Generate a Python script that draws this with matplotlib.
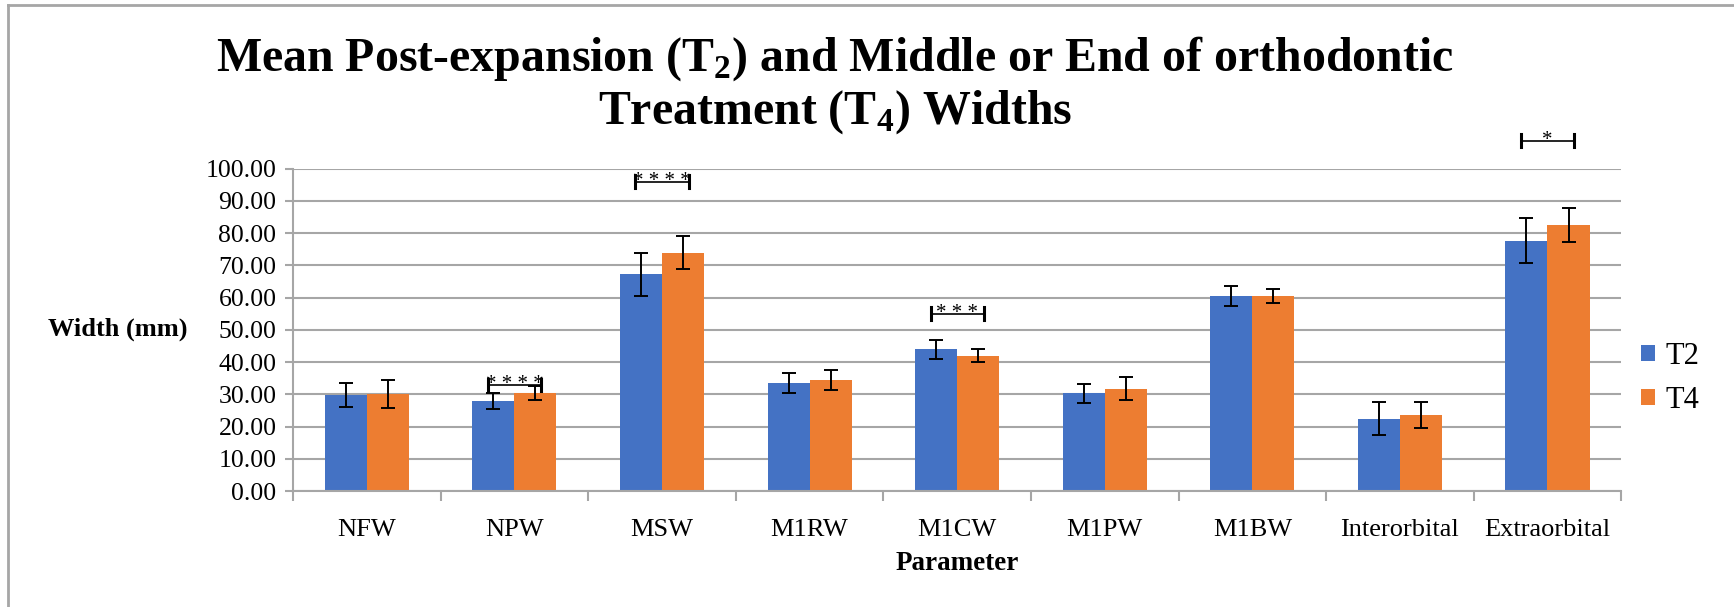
import numpy as np
import matplotlib.pyplot as plt
from matplotlib.lines import Line2D

plt.rcParams['font.family'] = ['Liberation Serif', 'DejaVu Serif']
plt.rcParams['mathtext.fontset'] = 'custom'
plt.rcParams['mathtext.rm'] = 'Liberation Serif:bold'
plt.rcParams['mathtext.bf'] = 'Liberation Serif:bold'

categories = ["NFW", "NPW", "MSW", "M1RW", "M1CW", "M1PW", "M1BW",
              "Interorbital", "Extraorbital"]
t2_mean = [29.7, 28.0, 67.3, 33.5, 44.0, 30.3, 60.5, 22.5, 77.7]
t2_err = [3.7, 2.5, 6.7, 3.2, 3.0, 3.0, 3.2, 5.0, 6.9]
t4_mean = [30.2, 30.5, 74.0, 34.5, 42.0, 31.8, 60.4, 23.5, 82.5]
t4_err = [4.3, 2.2, 5.0, 3.0, 2.0, 3.5, 2.2, 4.0, 5.2]

# significance brackets: (category index, y value, stars)
sig_idx = [1, 2, 4, 8]
sig_y = [32.9, 96.0, 55.0, 108.7]
sig_txt = ["* * * *", "* * * *", "* * *", "*"]

blue = "#4472C4"
orange = "#ED7D31"
grid_c = "#A6A6A6"

fig = plt.figure(figsize=(17.34, 6.07), dpi=100)
ax = fig.add_axes([0.169, 0.191, 0.766, 0.531])

x = np.arange(len(categories))
w = 0.285
ekw = dict(ecolor="black", elinewidth=1.4, capthick=1.4)
ax.bar(x - w / 2, t2_mean, w, color=blue, yerr=t2_err, capsize=5,
       error_kw=ekw, label="T2", zorder=2)
ax.bar(x + w / 2, t4_mean, w, color=orange, yerr=t4_err, capsize=5,
       error_kw=ekw, label="T4", zorder=2)

for i, yv, s in zip(sig_idx, sig_y, sig_txt):
    x0, x1 = i - 0.18, i + 0.18
    ax.plot([x0, x1], [yv, yv], color="black", lw=1.2, clip_on=False, zorder=3)
    for xx in (x0, x1):
        ax.plot([xx, xx], [yv - 2.0, yv + 2.0], color="black", lw=2.2,
                clip_on=False, zorder=3)
    ax.annotate(s, (i, yv), xytext=(0, -3.0), textcoords="offset points",
                ha="center", va="baseline", fontsize=15, annotation_clip=False)

ax.set_xlim(-0.5, len(categories) - 0.5)
ax.set_ylim(0, 100)
ax.set_yticks(np.arange(0, 101, 10))
ax.set_yticklabels([f"{v:.2f}" for v in np.arange(0, 101, 10)])
ax.yaxis.grid(True, color=grid_c, lw=1.5, zorder=0)
ax.set_axisbelow(True)

ax.set_xticks(x)
ax.set_xticklabels(categories)
ax.set_xticks(np.arange(-0.5, len(categories)), minor=True)
ax.tick_params(axis="x", which="major", length=0, labelsize=19, pad=20)
ax.tick_params(axis="x", which="minor", length=7, color=grid_c, width=1.5)
ax.tick_params(axis="y", length=6, color=grid_c, width=1.5, labelsize=18.5,
               pad=6)

for side in ("top", "right"):
    ax.spines[side].set_visible(False)
for side in ("left", "bottom"):
    ax.spines[side].set_color(grid_c)
    ax.spines[side].set_linewidth(1.5)

ax.set_xlabel("Parameter", fontsize=19.5, fontweight="bold", labelpad=7.5)
fig.text(0.0677, 0.458, "Width (mm)", fontsize=19, fontweight="bold",
         ha="center", va="center")

fig.text(0.4815, 0.944,
         "Mean Post-expansion (T$_2$) and Middle or End of orthodontic\n"
         "Treatment (T$_4$) Widths",
         fontsize=34.5, fontweight="bold", ha="center", va="top",
         linespacing=1.15)

ax.legend(loc="center left", bbox_to_anchor=(0.994, 0.35), frameon=False,
          fontsize=22, handlelength=0.45, handleheight=0.45, labelspacing=0.5,
          handletextpad=0.35)

fig.add_artist(Line2D([0.0048, 0.0048], [0, 0.992], color=grid_c, lw=2,
                      transform=fig.transFigure))
fig.add_artist(Line2D([0.0048, 1], [0.992, 0.992], color=grid_c, lw=2,
                      transform=fig.transFigure))

fig.savefig("out.png", dpi=100)
